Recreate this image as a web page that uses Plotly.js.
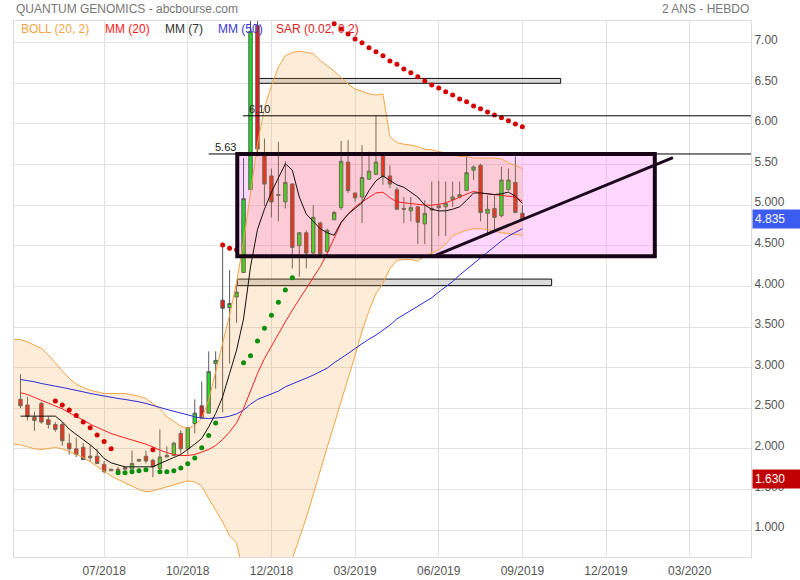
<!DOCTYPE html>
<html>
<head>
<meta charset="utf-8">
<script src="https://cdn.plot.ly/plotly-3.0.1.min.js"></script>
<style>html,body{margin:0;padding:0;background:#fff;}#chart{width:800px;height:580px;}</style>
</head>
<body>
<div id="chart"></div>
<script>
// ---- weekly candles (week index 0 .. 72) ----
const open  = [2.61,2.54,2.39,2.56,2.36,2.30,2.30,2.07,2.00,2.02, 1.91,1.91,1.81,1.73,1.75,1.77,1.75,1.85,1.91,1.86,
               1.76,1.90,1.92,2.19,2.00,2.31,2.53,2.44,3.05,3.83, 3.74,3.87,4.17,5.19,7.21,5.61,5.36,5.12,5.04,5.26,
               4.50,4.66,4.41,4.78,4.43,4.82,4.97,5.53,5.15,5.10, 5.32,5.38,5.62,5.36,5.19,4.96,4.93,4.98,4.77,4.96,
               4.99,4.98,5.07,5.10,5.18,5.43,5.49,4.90,4.96,4.87, 5.19,5.28,4.90];
const high  = [2.92,2.64,2.46,2.58,2.40,2.33,2.33,2.19,2.14,2.07, 2.05,2.00,1.85,1.75,1.78,1.78,1.98,1.88,1.98,1.88,
               2.24,2.03,2.09,2.23,2.27,2.61,2.83,3.20,3.20,4.52, 4.20,4.02,5.58,7.45,7.45,5.82,5.45,5.78,5.54,5.27,
               4.67,4.69,5.00,4.80,4.71,4.93,5.79,5.80,5.15,5.74, 5.66,6.10,5.62,5.49,5.22,5.10,5.10,4.98,5.06,5.29,
               5.30,5.29,5.29,5.29,5.60,5.49,5.51,5.12,5.12,5.47, 5.45,5.60,5.00];
const low   = [2.50,2.35,2.22,2.31,2.25,2.21,2.04,1.93,1.90,1.86, 1.84,1.82,1.70,1.73,1.70,1.74,1.74,1.84,1.82,1.65,
               1.74,1.90,1.92,1.94,1.93,2.19,2.37,2.44,2.74,2.45, 3.05,3.55,4.17,5.19,5.60,4.99,4.85,4.80,4.96,4.22,
               4.12,4.22,4.39,4.35,4.41,4.82,4.94,5.15,5.04,4.78, 5.31,5.37,5.25,5.21,4.94,4.78,4.80,4.52,4.52,4.37,
               4.62,4.62,4.98,5.08,5.18,5.31,4.80,4.63,4.69,4.85, 5.18,4.90,4.835];
const close = [2.53,2.40,2.35,2.33,2.30,2.24,2.10,2.00,1.93,1.87, 1.89,1.82,1.72,1.75,1.72,1.75,1.82,1.87,1.85,1.78,
               1.90,1.92,2.07,2.00,2.26,2.44,2.38,2.95,3.09,3.73, 3.79,3.93,5.08,7.14,5.69,5.26,5.04,5.13,5.28,4.48,
               4.66,4.41,4.85,4.40,4.69,4.91,5.54,5.18,5.09,5.34, 5.42,5.53,5.35,5.26,4.95,4.95,4.97,4.79,4.90,4.94,
               4.97,5.02,5.10,5.13,5.40,5.47,4.91,4.95,4.85,5.31, 5.31,4.91,4.835];

// ---- moving averages ----
const mm7  = [2.403,2.403,2.403,2.403,2.403,2.403,2.333,2.243,2.177,2.115, 2.050,1.976,1.881,1.828,1.799,1.779,1.779,1.779,1.779,1.779,
              1.820,1.861,1.894,1.931,1.992,2.058,2.128,2.271,2.436,2.641, 2.928,3.215,3.600,4.240,4.700,4.950,5.160,5.340,5.510,5.430,
              5.100,4.890,4.800,4.710,4.660,4.630,4.790,4.890,4.960,5.030, 5.180,5.300,5.360,5.310,5.250,5.220,5.160,5.100,5.000,4.950,
              4.930,4.930,4.950,4.980,5.060,5.150,5.150,5.140,5.130,5.140, 5.160,5.110,5.020];
const mm20 = [2.690,2.670,2.633,2.600,2.567,2.530,2.493,2.444,2.403,2.354, 2.304,2.263,2.222,2.189,2.161,2.136,2.111,2.087,2.058,2.025,
              1.984,1.955,1.931,1.918,1.918,1.931,1.959,1.992,2.041,2.115, 2.210,2.321,2.497,2.723,2.928,3.113,3.269,3.421,3.564,3.708,
              3.840,3.975,4.111,4.242,4.406,4.600,4.780,4.890,4.980,5.040, 5.100,5.150,5.160,5.090,5.040,5.030,5.020,5.010,5.000,5.000,
              5.010,5.030,5.060,5.100,5.140,5.170,5.150,5.140,5.130,5.120, 5.110,5.100,5.050];
const mm50 = [2.854,2.842,2.826,2.805,2.793,2.772,2.756,2.735,2.719,2.702, 2.682,2.665,2.649,2.637,2.620,2.608,2.596,2.579,2.559,2.538,
              2.510,2.485,2.460,2.440,2.419,2.395,2.378,2.374,2.378,2.386, 2.403,2.431,2.477,2.550,2.608,2.641,2.674,2.711,2.764,2.797,
              2.838,2.871,2.908,2.953,2.994,3.060,3.113,3.174,3.236,3.297, 3.351,3.400,3.462,3.523,3.600,3.650,3.705,3.750,3.800,3.860,
              3.930,3.990,4.060,4.140,4.210,4.290,4.360,4.420,4.500,4.560, 4.620,4.670,4.710];

// ---- Bollinger (20, 2): week index -1 .. 72 ----
const bollUpper = [3.347,
              3.347,3.318,3.273,3.236,3.154,3.051,2.961,2.867,2.797,2.756, 2.723,2.702,2.682,2.682,2.682,2.682,2.665,2.649,2.620,2.559,
              2.497,2.395,2.333,2.280,2.251,2.292,2.374,2.600,2.950,3.300, 3.650,4.050,4.550,5.150,5.750,6.200,6.470,6.700,6.840,6.880,
              6.895,6.880,6.865,6.780,6.720,6.650,6.570,6.490,6.430,6.400, 6.370,6.355,6.370,5.840,5.770,5.750,5.740,5.720,5.690,5.680,
              5.660,5.640,5.620,5.600,5.600,5.580,5.580,5.580,5.580,5.570, 5.520,5.490,5.450];
const bollLower = [2.058,
              2.050,2.025,2.000,1.992,2.005,2.017,2.000,1.964,1.922,1.894, 1.841,1.779,1.717,1.664,1.623,1.582,1.541,1.500,1.471,1.483,
              1.508,1.532,1.561,1.586,1.606,1.594,1.541,1.389,1.250,1.100, 0.930,0.840,0.450,0.200,0.050,0.000,0.050,0.200,0.400,0.640,
              0.900,1.150,1.450,1.750,2.020,2.300,2.580,2.850,3.150,3.450, 3.700,3.910,4.040,4.220,4.320,4.330,4.330,4.310,4.370,4.410,
              4.450,4.520,4.620,4.660,4.690,4.710,4.710,4.700,4.680,4.660, 4.650,4.640,4.630];

// ---- Parabolic SAR (0.02, 0.2) ----
const sar = [null,null,null,null,null,2.59,2.54,2.48,2.41,2.33, 2.26,2.17,2.09,2.00,1.705,1.705,1.717,1.730,1.742,1.99,
             1.717,1.717,1.730,1.766,1.816,1.889,2.013,2.165,2.320,4.51, 4.47,4.45,3.060,3.145,3.327,3.486,3.646,3.806,3.955,4.106,
             null,null,null,null,null,7.234,7.169,7.107,7.046,7.000, 6.939,6.890,6.840,6.775,6.734,6.676,6.631,6.582,6.528,6.479,
             6.442,6.397,6.356,6.307,6.274,6.220,6.187,6.147,6.110,6.077, 6.040,5.999,5.966];

// ---- axis ticks ----
const xTickWeeks  = [12,24,36,48,60,72,84,96];
const xTickLabels = ['07/2018','10/2018','12/2018','03/2019','06/2019','09/2019','12/2019','03/2020'];
const yTickVals   = [1.0,1.5,2.0,2.5,3.0,3.5,4.0,4.5,5.0,5.5,6.0,6.5,7.0];
const yTickLabels = ['1.000','1.500','2.000','2.500','3.000','3.500','4.000','4.500','5.000','5.50','6.00','6.50','7.00'];

// ---- drawn objects (levels / zones / trendline) ----
const levelValues = [5.63, 6.10];
const levelStart  = [27.0, 31.9];
const zoneBox     = {x0: 31.1, x1: 91.0, y0: 4.37, y1: 5.63};
const grayZones   = [{x0: 34.0, x1: 77.5, y0: 6.50, y1: 6.56}, {x0: 31.1, x1: 76.2, y0: 4.01, y1: 4.09}];
const trendLine   = {x0: 59.2, y0: 4.37, x1: 93.6, y1: 5.586};
const lastClose   = 4.835;
const sideValue   = 1.630;

const weeks = close.map((_, i) => i);
const bollWeeks = bollUpper.map((_, i) => i - 1);
const sarColors = sar.map((v, i) => (v !== null && v > close[i]) ? '#d40000' : '#0a8f0a');

const XMIN = -0.93, XMAX = 104.8, YMIN = 0.669, YMAX = 7.267;

const traces = [
  {type:'scatter', mode:'lines', x:bollWeeks, y:bollUpper, line:{color:'#f5a445', width:1}, hoverinfo:'skip', showlegend:false},
  {type:'scatter', mode:'lines', x:bollWeeks, y:bollLower, line:{color:'#f5a445', width:1}, fill:'tonexty',
   fillcolor:'rgba(245,160,60,0.20)', hoverinfo:'skip', showlegend:false},
  {type:'candlestick', x:weeks, open:open, high:high, low:low, close:close,
   increasing:{line:{color:'#5a5a5a', width:1}, fillcolor:'#22dd22'},
   decreasing:{line:{color:'#5a5a5a', width:1}, fillcolor:'#ee1818'},
   whiskerwidth:0, showlegend:false, hoverinfo:'skip'},
  {type:'scatter', mode:'lines', x:weeks, y:mm50, line:{color:'#2b2bd6', width:1}, showlegend:false},
  {type:'scatter', mode:'lines', x:weeks, y:mm20, line:{color:'#ff2020', width:1}, showlegend:false},
  {type:'scatter', mode:'lines', x:weeks, y:mm7,  line:{color:'#111111', width:1}, showlegend:false},
  {type:'scatter', mode:'markers', x:weeks, y:sar, marker:{color:sarColors, size:5}, showlegend:false}
];

const shapes = [
  {type:'rect', layer:'between', xref:'x', yref:'y', x0:zoneBox.x0, x1:zoneBox.x1, y0:zoneBox.y0, y1:zoneBox.y1,
   fillcolor:'rgba(250,90,250,0.25)', line:{width:0}},
  ...grayZones.map(z => ({type:'rect', layer:'between', xref:'x', yref:'y', x0:z.x0, x1:z.x1, y0:z.y0, y1:z.y1,
   fillcolor:'rgba(190,190,190,0.55)', line:{color:'#111', width:1}})),
  ...levelValues.map((v, k) => ({type:'line', layer:'above', xref:'x', yref:'y', x0:levelStart[k], x1:XMAX, y0:v, y1:v,
   line:{color:'#000', width:1}})),
  {type:'rect', layer:'above', xref:'x', yref:'y', x0:zoneBox.x0, x1:zoneBox.x1, y0:zoneBox.y0, y1:zoneBox.y1,
   fillcolor:'rgba(0,0,0,0)', line:{color:'#160416', width:4}},
  {type:'line', layer:'above', xref:'x', yref:'y', x0:trendLine.x0, y0:trendLine.y0, x1:trendLine.x1, y1:trendLine.y1,
   line:{color:'#1c081c', width:3}}
];

const F = 'Liberation Sans, Arial, sans-serif';
const pw = 737, ph = 536;
const px = p => (p - 14) / pw;
const py = p => (557 - p) / ph;

const legendItems = [
  {t:'BOLL (20, 2)', c:'#f5a445', x:19},
  {t:'MM (20)', c:'#ff2020', x:103},
  {t:'MM (7)', c:'#333333', x:163},
  {t:'MM (50)', c:'#3a3ad6', x:216},
  {t:'SAR (0.02, 0.2)', c:'#dd2222', x:274}
];

const annotations = [
  {xref:'paper', yref:'paper', x:px(14), y:py(9), xanchor:'left', yanchor:'middle', showarrow:false,
   text:'QUANTUM GENOMICS - abcbourse.com', font:{family:F, size:12, color:'#777'}},
  {xref:'paper', yref:'paper', x:1, y:py(9), xanchor:'right', yanchor:'middle', showarrow:false,
   text:'2 ANS - HEBDO', font:{family:F, size:12, color:'#777'}},
  ...legendItems.map(l => ({xref:'paper', yref:'paper', x:px(l.x), y:py(29), xanchor:'left', yanchor:'middle',
   showarrow:false, text:l.t, font:{family:F, size:12, color:l.c}})),
  ...levelValues.map((v, k) => ({xref:'x', yref:'y', x:levelStart[k], y:v, xanchor:'left', yanchor:'bottom',
   xshift:4, yshift:-1, showarrow:false, text:v.toFixed(2), font:{family:F, size:11, color:'#222'}})),
  {xref:'paper', yref:'y', x:1, y:lastClose, xanchor:'left', yanchor:'middle', xshift:1, showarrow:false,
   text:lastClose.toFixed(3), bgcolor:'#3c5cf0', width:43, align:'left', borderpad:2,
   font:{family:F, size:12, color:'#fff'}},
  {xref:'paper', yref:'y', x:1, y:sideValue, xanchor:'left', yanchor:'middle', xshift:1, showarrow:false,
   text:sideValue.toFixed(3), bgcolor:'#c00000', width:43, align:'left', borderpad:2,
   font:{family:F, size:12, color:'#fff'}}
];

const layout = {
  width:800, height:580,
  margin:{l:14, r:49, t:21, b:23, pad:0},
  paper_bgcolor:'#fff', plot_bgcolor:'#fff',
  showlegend:false, hovermode:false,
  xaxis:{range:[XMIN, XMAX], tickvals:xTickWeeks, ticktext:xTickLabels, showgrid:true, gridcolor:'#e2e2e2',
         zeroline:false, showline:true, linecolor:'#dcdcdc', mirror:true, ticks:'', ticklabelstandoff:3,
         tickfont:{family:F, size:12, color:'#555'}, rangeslider:{visible:false}, fixedrange:true},
  yaxis:{side:'right', range:[YMIN, YMAX], tickvals:yTickVals, ticktext:yTickLabels, showgrid:true, gridcolor:'#e2e2e2',
         zeroline:false, showline:true, linecolor:'#dcdcdc', mirror:true, ticks:'', ticklabelshift:-3,
         tickfont:{family:F, size:12, color:'#555'}, fixedrange:true},
  shapes:shapes,
  annotations:annotations
};

Plotly.newPlot('chart', traces, layout, {displayModeBar:false, staticPlot:true});
</script>
</body>
</html>
